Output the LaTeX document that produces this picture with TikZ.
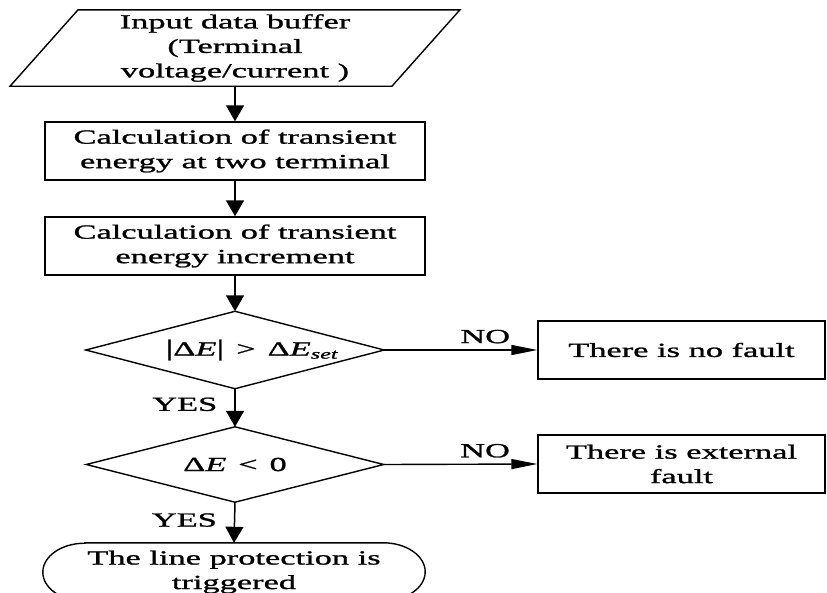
\documentclass[tikz,border=0pt]{standalone}
\usepackage{fontspec}
\setmainfont{Liberation Serif}[FakeStretch=1.72, FakeBold=1.2]
\usetikzlibrary{arrows.meta}
\begin{document}
\begin{tikzpicture}[x=1pt,y=-1pt,
  every node/.style={font=\fontsize{20}{24.5}\selectfont, align=center, inner sep=0pt},
  ln/.style={line width=1.4pt},
  boxnode/.style={draw, line width=1.4pt, minimum width=380pt, minimum height=58pt},
  plain/.style={minimum width=#1, minimum height=76pt},
  varr/.style={line width=1.5pt, -{Triangle[length=16pt,width=18pt]}},
  harr/.style={line width=1.4pt, -{Triangle[length=26pt,width=10pt]}},
  nolbl/.style={above=6pt, anchor=south},
  yeslbl/.style={anchor=east, xshift=-17pt}
]
\useasboundingbox (0,0) rectangle (827,592);

% input parallelogram
\node[plain=381.5pt] (in) at (235,48) {Input data buffer\\(Terminal\\voltage/current )};
\draw[ln] ([xshift=34pt]in.north west) -- ([xshift=34pt]in.north east)
  -- ([xshift=-34pt]in.south east) -- ([xshift=-34pt]in.south west) -- cycle;

\node[boxnode] (b1) at (235,151) {Calculation of transient\\energy at two terminal};
\node[boxnode] (b2) at (235,246) {Calculation of transient\\energy increment};

% decision 1
\node[minimum width=298pt, minimum height=77pt] (d1) at (235,350) {};
\draw[ln] (d1.west) -- (d1.north) -- (d1.east) -- (d1.south) -- cycle;
\node (d1t) at (252,350) {{\fontsize{23}{24}\selectfont|}Δ\textit{E}{\fontsize{23}{24}\selectfont|} \,>\, Δ\textit{E}\textsubscript{\textit{set}}};

% decision 2
\node[minimum width=297pt, minimum height=75pt] (d2) at (235,464.5) {Δ\textit{E} \,<\, 0};
\draw[ln] (d2.west) -- (d2.north) -- (d2.east) -- (d2.south) -- cycle;

\node[boxnode, minimum width=287pt] (nf) at (681.5,350) {There is no fault};
\node[boxnode, minimum width=287pt] (ef) at (681.5,464) {There is external\\fault};

% terminal
\node[minimum width=382pt, minimum height=58pt] (t) at (234,572) {The line protection is\\triggered};
\draw[ln] ([xshift=42pt]t.north west) -- ([xshift=-42pt]t.north east)
  arc[start angle=90, end angle=-90, x radius=42pt, y radius=29pt]
  -- ([xshift=42pt]t.south west)
  arc[start angle=270, end angle=90, x radius=42pt, y radius=29pt] -- cycle;

% connectors
\draw[varr] (in.south) -- (b1.north);
\draw[varr] (b1.south) -- (b2.north);
\draw[varr] (b2.south) -- (d1.north);
\draw[varr] (d1.south) -- node[yeslbl, pos=0.41] {YES} (d2.north);
\draw[varr] (d2.south) -- node[yeslbl, pos=0.44] {YES} (t.north);
\draw[harr] (d1.east) -- node[nolbl, pos=0.66] {NO} (nf.west);
\draw[harr] (d2.east) -- node[nolbl, pos=0.66] {NO} (ef.west);
\end{tikzpicture}
\end{document}
